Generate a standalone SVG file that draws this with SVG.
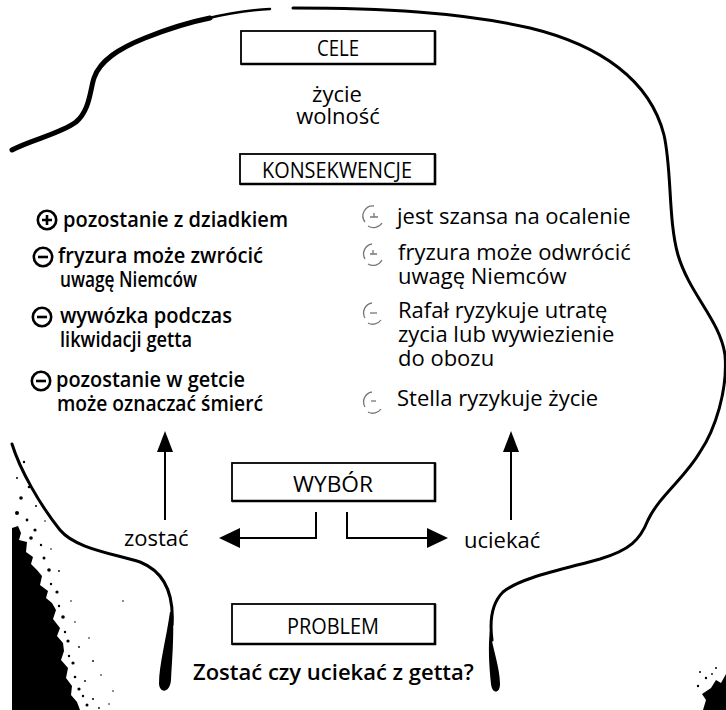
<svg xmlns="http://www.w3.org/2000/svg" width="726" height="710" viewBox="0 0 726 710">
<style>
  .t { font-family: "Open Sans", "DejaVu Sans", sans-serif; fill: #000; }
  .box { fill: #fff; stroke: #000; stroke-width: 1.8; }
  .edge { stroke: #000; stroke-width: 2.6; fill: none; }
  .lbl { font-size: 22px; text-anchor: middle; }
  .body { font-size: 22px; }
  .left { font-size: 22px; font-weight: 600; }
  .bold { font-weight: 600; }
  .outline { fill: none; stroke: #000; stroke-linecap: round; stroke-linejoin: round; }
  .conn { fill: none; stroke: #000; stroke-width: 2; }
  .icon { fill: none; stroke: #000; stroke-width: 2.6; }
  .ficon { fill: none; stroke: #777; stroke-width: 1.3; }
</style>
<rect width="726" height="710" fill="#fff"/>

<!-- head outline -->
<g id="outline">
  <path class="outline" stroke-width="5" d="M12,150 C30,140 60,134 76,122 C90,110 90,90 94,78 C100,60 120,48 145,38 C170,28 190,22 210,18"/>
  <path class="outline" stroke-width="2.5" d="M205,19 C225,14 250,10 270,9"/>
  <path class="outline" stroke-width="3" d="M293,8 C380,8 460,12 530,28 C600,45 650,80 664,135 C672,170 668,220 678,255 C690,295 720,320 725,355 C728,390 715,430 700,452 C685,478 660,495 648,520 C640,540 630,550 600,559 C560,570 520,578 503,592 C490,605 490,625 492,640"/>
  <path fill="#000" d="M490,630 C493,650 500,668 500,684 C500,694 492,694 491,684 C489,665 488,645 490,630 Z"/>
  <path class="outline" stroke-width="3" d="M12,444 C20,470 40,505 60,530 C75,548 110,553 140,562 C165,572 174,595 172,625"/>
  <path fill="#000" d="M173,612 C174,640 172,660 171,680 C170,693 160,694 159,684 C159,665 166,640 170,612 Z"/>
</g>

<!-- scan smudges -->
<g id="smudges" fill="#000">
  <path d="M12,528 L18,526 L21,533 L19,540 L27,542 L26,552 L33,557 L31,564 L37,570 L42,576 L40,585 L48,591 L46,598 L52,603 L56,610 L53,619 L60,628 L57,636 L63,643 L64,651 L61,660 L68,668 L66,678 L72,686 L71,695 L77,702 L80,710 L12,710 Z"/>
  <circle cx="24" cy="462" r="1.2"/><circle cx="17" cy="478" r="1"/><circle cx="29" cy="487" r="1.3"/>
  <circle cx="21" cy="498" r="1.8"/><circle cx="36" cy="506" r="1"/><circle cx="17" cy="513" r="2"/>
  <circle cx="27" cy="520" r="1.4"/><circle cx="35" cy="530" r="1.6"/><circle cx="41" cy="545" r="1.2"/>
  <circle cx="31" cy="538" r="1.8"/><circle cx="44" cy="558" r="1.5"/><circle cx="49" cy="570" r="1.8"/>
  <circle cx="51" cy="584" r="1.2"/><circle cx="57" cy="592" r="1.6"/><circle cx="59" cy="606" r="1.2"/>
  <circle cx="63" cy="617" r="1.8"/><circle cx="65" cy="632" r="1.2"/><circle cx="68" cy="641" r="1.6"/>
  <circle cx="69" cy="656" r="1.2"/><circle cx="73" cy="663" r="1.6"/><circle cx="75" cy="677" r="1.3"/>
  <circle cx="79" cy="689" r="1.6"/><circle cx="83" cy="696" r="1.2"/><circle cx="87" cy="705" r="1.5"/>
  <circle cx="93" cy="699" r="1"/><circle cx="99" cy="708" r="0.9"/><circle cx="85" cy="681" r="0.9"/>
  <circle cx="79" cy="647" r="0.9"/><circle cx="101" cy="675" r="0.8"/><circle cx="113" cy="691" r="0.8"/>
  <circle cx="89" cy="638" r="0.8"/><circle cx="71" cy="601" r="0.8"/><circle cx="109" cy="704" r="0.8"/>
  <circle cx="59" cy="571" r="0.9"/><circle cx="51" cy="549" r="0.8"/><circle cx="45" cy="521" r="0.8"/>
  <circle cx="123" cy="601" r="0.8"/><circle cx="93" cy="661" r="0.9"/><circle cx="75" cy="622" r="0.8"/>
  <path d="M711,688 L716,680 L721,683 L726,674 L726,710 L703,710 L706,700 L702,694 Z"/>
  <circle cx="700" cy="672" r="1"/><circle cx="706" cy="678" r="1.2"/><circle cx="716" cy="668" r="1"/>
  <circle cx="698" cy="686" r="1.2"/><circle cx="712" cy="674" r="0.9"/>
</g>

<!-- connectors -->
<g id="connectors">
  <line class="conn" x1="165" y1="520" x2="165" y2="450"/>
  <path d="M165,431 L157,452 L173,452 Z" fill="#000"/>
  <line class="conn" x1="511" y1="520" x2="511" y2="450"/>
  <path d="M511,431 L503,452 L519,452 Z" fill="#000"/>
  <path class="conn" d="M316,512 L316,538 L238,538"/>
  <path d="M219,538 L240,528 L240,548 Z" fill="#000"/>
  <path class="conn" d="M347,512 L347,538 L429,538"/>
  <path d="M448,538 L427,528 L427,548 Z" fill="#000"/>
</g>

<!-- nodes -->
<g id="cele">
  <rect class="box" x="241" y="31" width="194" height="33"/>
  <path class="edge" d="M241,64 H435 V31"/>
  <text class="t lbl" x="338" y="56" textLength="42" lengthAdjust="spacingAndGlyphs">CELE</text>
</g>
<g id="goals">
  <text class="t body" x="337" y="102" text-anchor="middle" font-size="20">życie</text>
  <text class="t body" x="338" y="124" text-anchor="middle" font-size="20">wolność</text>
</g>
<g id="konsekwencje">
  <rect class="box" x="240" y="154" width="195" height="30"/>
  <path class="edge" d="M240,184 H435 V154"/>
  <text class="t lbl" x="337" y="178" textLength="150" lengthAdjust="spacingAndGlyphs">KONSEKWENCJE</text>
</g>

<g id="consequences-stay">
  <circle class="icon" cx="47" cy="220" r="9.2"/><path class="icon" d="M42,220 H52 M47,215 V225"/>
  <text class="t left" x="63" y="227" textLength="225" lengthAdjust="spacingAndGlyphs">pozostanie z dziadkiem</text>
  <circle class="icon" cx="43" cy="257" r="9.2"/><path class="icon" d="M38,257 H48"/>
  <text class="t left" x="58" y="263" textLength="205" lengthAdjust="spacingAndGlyphs">fryzura może zwrócić</text>
  <text class="t left" x="60" y="287" textLength="137" lengthAdjust="spacingAndGlyphs">uwagę Niemców</text>
  <circle class="icon" cx="42" cy="317" r="9.2"/><path class="icon" d="M37,317 H47"/>
  <text class="t left" x="60" y="323" textLength="172" lengthAdjust="spacingAndGlyphs">wywózka podczas</text>
  <text class="t left" x="60" y="347" textLength="132" lengthAdjust="spacingAndGlyphs">likwidacji getta</text>
  <circle class="icon" cx="41" cy="381" r="9.2"/><path class="icon" d="M36,381 H46"/>
  <text class="t left" x="56" y="387" textLength="189" lengthAdjust="spacingAndGlyphs">pozostanie w getcie</text>
  <text class="t left" x="57" y="411" textLength="206" lengthAdjust="spacingAndGlyphs">może oznaczać śmierć</text>
</g>

<g id="consequences-flee">
  <path class="ficon" d="M374,206 A10,10 0 0 0 365,222 M368,226 A10,10 0 0 0 382,223"/><path class="ficon" d="M370,217 H378 M374,213 V217"/>
  <text class="t body" x="397" y="224">jest szansa na ocalenie</text>
  <path class="ficon" d="M372,244 A10,10 0 0 0 365,259 M368,264 A10,10 0 0 0 382,260"/><path class="ficon" d="M370,254 H377 M373,250 V254"/>
  <text class="t body" x="398" y="260">fryzura może odwrócić</text>
  <text class="t body" x="398" y="284">uwagę Niemców</text>
  <path class="ficon" d="M372,303 A10,10 0 0 0 365,318 M368,323 A10,10 0 0 0 381,320"/><path class="ficon" d="M370,313 H377"/>
  <text class="t body" x="398" y="318">Rafał ryzykuje utratę</text>
  <text class="t body" x="398" y="342">zycia lub wywiezienie</text>
  <text class="t body" x="398" y="366">do obozu</text>
  <path class="ficon" stroke="#aaa" d="M372,392 A10,10 0 0 0 365,407 M368,412 A10,10 0 0 0 381,409"/><path class="ficon" stroke="#aaa" d="M371,401 H376"/>
  <text class="t body" x="397" y="406">Stella ryzykuje życie</text>
</g>

<g id="wybor">
  <rect class="box" x="232" y="463" width="203" height="38"/>
  <path class="edge" d="M232,501 H435 V463"/>
  <text class="t lbl" x="333" y="492" textLength="80" lengthAdjust="spacingAndGlyphs">WYBÓR</text>
</g>
<g id="zostac">
  <text class="t body" x="124" y="546">zostać</text>
</g>
<g id="uciekac">
  <text class="t body" x="464" y="548">uciekać</text>
</g>
<g id="problem">
  <rect class="box" x="232" y="604" width="203" height="40"/>
  <path class="edge" d="M232,644 H435 V604"/>
  <text class="t lbl" x="333" y="634" textLength="92" lengthAdjust="spacingAndGlyphs">PROBLEM</text>
</g>
<g id="question">
  <text class="t body bold" x="193" y="680">Zostać czy uciekać z getta?</text>
</g>
</svg>
